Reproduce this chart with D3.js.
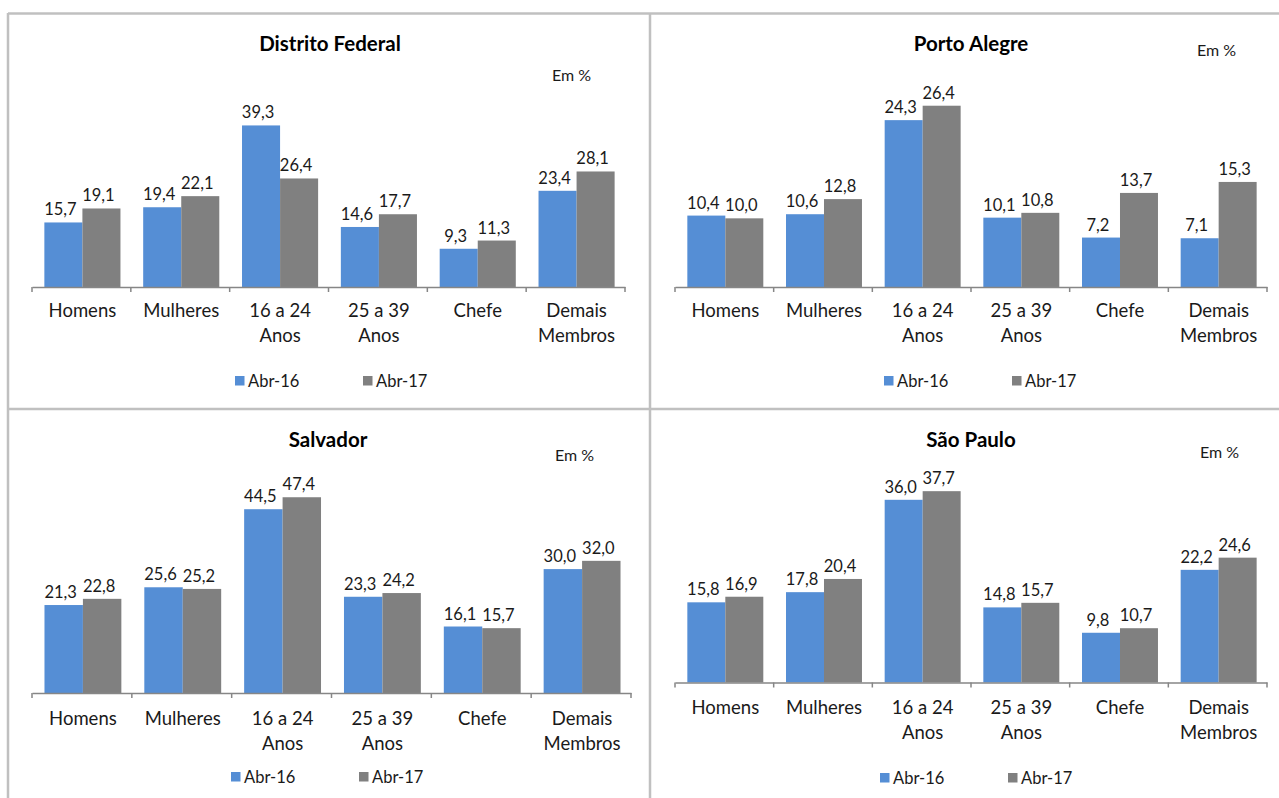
<!DOCTYPE html>
<html><head><meta charset="utf-8">
<script src="https://cdn.jsdelivr.net/npm/d3@7"></script>
<style>body{margin:0;background:#fff}svg{display:block}text{font-family:Lato,"Open Sans",sans-serif;fill:#1a1a1a}</style>
</head><body>
<svg id="c" width="1279" height="798"></svg>
<script>
const categories = [["Homens"], ["Mulheres"], ["16 a 24", "Anos"], ["25 a 39", "Anos"], ["Chefe"], ["Demais", "Membros"]];
const seriesNames = ["Abr-16", "Abr-17"];
const cities = ["Distrito Federal", "Porto Alegre", "Salvador", "São Paulo"];
const df16 = [15.7, 19.4, 39.3, 14.6, 9.3, 23.4];
const df17 = [19.1, 22.1, 26.4, 17.7, 11.3, 28.1];
const pa16 = [10.4, 10.6, 24.3, 10.1, 7.2, 7.1];
const pa17 = [10.0, 12.8, 26.4, 10.8, 13.7, 15.3];
const ssa16 = [21.3, 25.6, 44.5, 23.3, 16.1, 30.0];
const ssa17 = [22.8, 25.2, 47.4, 24.2, 15.7, 32.0];
const sp16 = [15.8, 17.8, 36.0, 14.8, 9.8, 22.2];
const sp17 = [16.9, 20.4, 37.7, 15.7, 10.7, 24.6];
const unitLabel = "Em %";
const colors = ["#558ed5", "#808080"];

const svg = d3.select("#c");
const fmt = v => d3.format(".1f")(v).replace(".", ",");

const panels = [
  {title: cities[0], a: df16, b: df17, x0: 32, x1: 625, base: 287, ymax: 45, top: 102, tx: 330, ty: 51, ex: 552, ey: 81, lx: 235, ly: 381, cl: 311},
  {title: cities[1], a: pa16, b: pa17, x0: 675, x1: 1267, base: 287, ymax: 30, top: 81, tx: 971, ty: 51, ex: 1197, ey: 56, lx: 884, ly: 381, cl: 311},
  {title: cities[2], a: ssa16, b: ssa17, x0: 32, x1: 631, base: 693, ymax: 50, top: 486.5, tx: 328, ty: 447, ex: 555, ey: 461, lx: 231, ly: 777, cl: 719},
  {title: cities[3], a: sp16, b: sp17, x0: 675, x1: 1267, base: 682.5, ymax: 40, top: 479.5, tx: 971, ty: 447, ex: 1200, ey: 458, lx: 880, ly: 778, cl: 708}
];

// frame lines
const frame = svg.append("g").attr("stroke", "#c0c0c0").attr("stroke-width", 2.5);
frame.append("line").attr("x1", 8).attr("x2", 1279).attr("y1", 13.5).attr("y2", 13.5);
frame.append("line").attr("x1", 8).attr("x2", 1279).attr("y1", 409).attr("y2", 409);
frame.append("line").attr("x1", 8).attr("x2", 8).attr("y1", 13).attr("y2", 798);
frame.append("line").attr("x1", 650).attr("x2", 650).attr("y1", 13).attr("y2", 798);

panels.forEach(p => {
  const g = svg.append("g");
  const idx = d3.range(categories.length);
  const x = d3.scaleBand().domain(idx).range([p.x0, p.x1]).paddingInner(0).paddingOuter(0);
  const bw = x.bandwidth();
  const x1 = d3.scaleBand().domain([0, 1]).range([bw * 0.125, bw * 0.895]);
  const y = d3.scaleLinear().domain([0, p.ymax]).range([p.base, p.top]);

  const rows = idx.map(i => [p.a[i], p.b[i]]);
  const grp = g.selectAll("g.cat").data(rows).join("g").attr("transform", (d, i) => `translate(${x(i)},0)`);
  grp.selectAll("rect").data(d => d).join("rect")
    .attr("x", (d, j) => x1(j)).attr("width", x1.bandwidth())
    .attr("y", d => y(d)).attr("height", d => p.base - y(d))
    .attr("fill", (d, j) => colors[j]);
  grp.selectAll("text.v").data(d => d).join("text").attr("class", "v")
    .attr("x", (d, j) => x1(j) + x1.bandwidth() / 2 - 3)
    .attr("y", d => y(d) - 7)
    .attr("text-anchor", "middle").attr("font-size", 16.5)
    .text(d => fmt(d));

  // axis
  const ax = g.append("g").attr("transform", `translate(0,${p.base})`)
    .call(d3.axisBottom(x).tickSize(0).tickFormat(""));
  ax.select(".domain").attr("stroke", "#868686").attr("stroke-width", 1.5);
  const edges = idx.map(i => x(i)).concat([p.x1]);
  g.selectAll("line.tk").data(edges).join("line").attr("class", "tk")
    .attr("x1", d => d).attr("x2", d => d).attr("y1", p.base).attr("y2", p.base + 5)
    .attr("stroke", "#868686").attr("stroke-width", 1.5);

  // category labels
  categories.forEach((lines, i) => {
    const t = g.append("text").attr("text-anchor", "middle").attr("font-size", 18.5)
      .attr("x", x(i) + bw / 2 + 1).attr("y", p.cl + 6);
    lines.forEach((ln, k) => t.append("tspan").attr("x", x(i) + bw / 2 + 1).attr("dy", k ? 25 : 0).text(ln));
  });

  // title
  g.append("text").attr("x", p.tx).attr("y", p.ty).attr("text-anchor", "middle")
    .attr("font-size", 20.5).attr("font-weight", "bold").style("fill", "#000").text(p.title);
  g.append("text").attr("x", p.ex).attr("y", p.ey).attr("font-size", 16).text(unitLabel);

  // legend
  seriesNames.forEach((s, j) => {
    const lx = p.lx + j * 128;
    g.append("rect").attr("x", lx).attr("y", p.ly - 5).attr("width", 9.5).attr("height", 9.5).attr("fill", colors[j]);
    g.append("text").attr("x", lx + 13).attr("y", p.ly + 6).attr("font-size", 16.5).text(s);
  });
});
</script>
</body></html>
